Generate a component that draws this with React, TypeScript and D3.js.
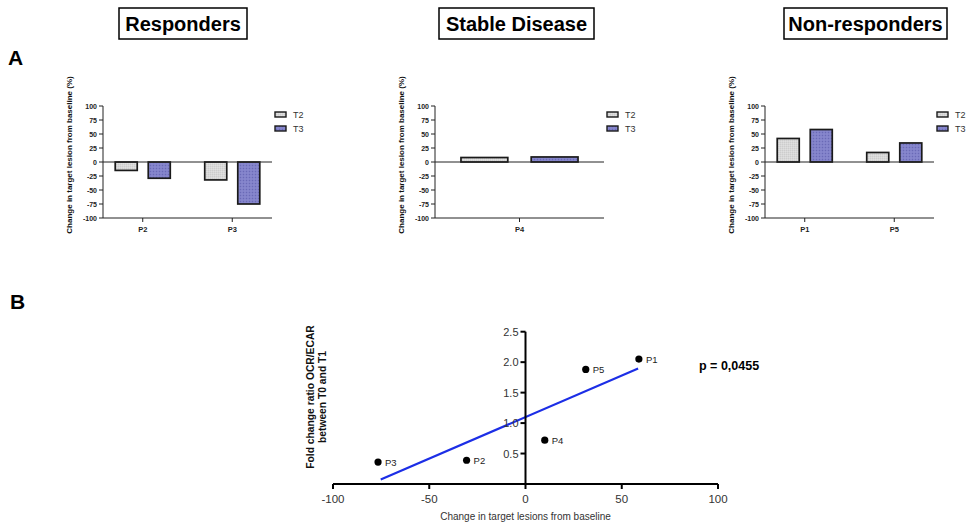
import React from "react";
import * as d3 from "d3";

// ---------- DATA ----------
const seriesNames = ["T2", "T3"];
const panelTitles = ["Responders", "Stable Disease", "Non-responders"];
const respondersCats = ["P2", "P3"];
const respondersT2 = [-15, -32];
const respondersT3 = [-29, -75];
const stableCats = ["P4"];
const stableT2 = [8];
const stableT3 = [9];
const nonRespCats = ["P1", "P5"];
const nonRespT2 = [42, 17];
const nonRespT3 = [58, 34];
const barTicks = [100, 75, 50, 25, 0, -25, -50, -75, -100];

const scatterLabels = ["P3", "P2", "P4", "P5", "P1"];
const scatterX = [-76.6, -30.6, 10.0, 31.3, 58.9];
const scatterY = [0.36, 0.39, 0.72, 1.88, 2.05];
const scatterXTicks = [-100, -50, 0, 50, 100];
const scatterYTicks = [0.5, 1.0, 1.5, 2.0, 2.5];
const pValueText = "p = 0,0455";

// ---------- LAYOUT ----------
const W = 967;
const H = 524;
const FONT = "Liberation Sans, Arial, Helvetica, sans-serif";
const panelAxisX = [103, 435, 765];
const titleBoxes = [
  [119, 247],
  [439, 594],
  [784, 947],
];
const plotW = 169;
const barTop = 106;
const barBottom = 218;

type Panel = { cats: string[]; t2: number[]; t3: number[] };
const panels: Panel[] = [
  { cats: respondersCats, t2: respondersT2, t3: respondersT3 },
  { cats: stableCats, t2: stableT2, t3: stableT3 },
  { cats: nonRespCats, t2: nonRespT2, t3: nonRespT3 },
];

function BarPanel({ idx }: { idx: number }) {
  const p = panels[idx];
  const x0 = panelAxisX[idx];
  const y = d3.scaleLinear().domain([-100, 100]).range([barBottom, barTop]);
  const x = d3.scalePoint<string>().domain(p.cats).range([x0, x0 + plotW]).padding(0.444);
  const step = p.cats.length > 1 ? x.step() : plotW / (2 * 0.444);
  const bw = step * 0.246;
  const gap = step * 0.123;
  const [bx0, bx1] = titleBoxes[idx];
  const title = panelTitles[idx];
  const labelCx = x0 - 31;
  const labelCy = 155;
  return (
    <g>
      <rect x={bx0} y={8} width={bx1 - bx0} height={31} fill="#fff" stroke="#000" strokeWidth={1.5} />
      <text x={(bx0 + bx1) / 2} y={31} textAnchor="middle" fontFamily={FONT} fontWeight="bold" fontSize={20} fill="#000">
        {title}
      </text>
      {/* y axis */}
      <line x1={x0} x2={x0} y1={barTop} y2={barBottom} stroke="#222" strokeWidth={1} />
      {barTicks.map((t) => (
        <g key={t}>
          <line x1={x0 - 4} x2={x0} y1={y(t)} y2={y(t)} stroke="#222" strokeWidth={1} />
          <text x={x0 - 6} y={y(t) + 2.5} textAnchor="end" fontFamily={FONT} fontWeight="bold" fontSize={7} fill="#222">
            {t}
          </text>
        </g>
      ))}
      <text
        transform={`translate(${labelCx},${labelCy}) rotate(-90)`}
        textAnchor="middle"
        fontFamily={FONT}
        fontWeight="bold"
        fontSize={8}
        fill="#111"
      >
        Change in target lesion from baseline (%)
      </text>
      {/* bars */}
      {p.cats.map((c, i) => {
        const cx = x(c) as number;
        const v2 = p.t2[i];
        const v3 = p.t3[i];
        return (
          <g key={c}>
            <rect
              x={cx - gap / 2 - bw}
              y={Math.min(y(v2), y(0))}
              width={bw}
              height={Math.abs(y(v2) - y(0))}
              fill="url(#patT2)"
              stroke="#1a1a1a"
              strokeWidth={1.7}
            />
            <rect
              x={cx + gap / 2}
              y={Math.min(y(v3), y(0))}
              width={bw}
              height={Math.abs(y(v3) - y(0))}
              fill="url(#patT3)"
              stroke="#1a1a1a"
              strokeWidth={1.7}
            />
            <line x1={cx} x2={cx} y1={barBottom} y2={barBottom + 4} stroke="#222" strokeWidth={1} />
            <text x={cx} y={232} textAnchor="middle" fontFamily={FONT} fontWeight="bold" fontSize={7.5} fill="#222">
              {c}
            </text>
          </g>
        );
      })}
      {/* zero line & bottom axis */}
      <line x1={x0} x2={x0 + plotW} y1={y(0)} y2={y(0)} stroke="#222" strokeWidth={1} />
      <line x1={x0} x2={x0 + plotW} y1={barBottom} y2={barBottom} stroke="#222" strokeWidth={1} />
      {/* legend */}
      {seriesNames.map((s, i) => (
        <g key={s}>
          <rect
            x={x0 + plotW + 3}
            y={112 + i * 14}
            width={11}
            height={5}
            fill={i === 0 ? "url(#patT2)" : "url(#patT3)"}
            stroke="#1a1a1a"
            strokeWidth={1.4}
          />
          <text x={x0 + plotW + 21} y={117.5 + i * 14} fontFamily={FONT} fontSize={9} fill="#333">
            {s}
          </text>
        </g>
      ))}
    </g>
  );
}

function Scatter() {
  const x = d3.scaleLinear().domain([-100, 100]).range([333, 718]);
  const y = d3.scaleLinear().domain([0, 2.5]).range([484, 331.7]);
  const mx = d3.mean(scatterX) as number;
  const my = d3.mean(scatterY) as number;
  let sxy = 0;
  let sxx = 0;
  scatterX.forEach((v, i) => {
    sxy += (v - mx) * (scatterY[i] - my);
    sxx += (v - mx) * (v - mx);
  });
  const slope = sxy / sxx;
  const intercept = my - slope * mx;
  const [xmin, xmax] = d3.extent(scatterX) as [number, number];
  const lx0 = xmin + 1.4;
  const lx1 = xmax - 0.4;
  const linePath = d3
    .line<number>()
    .x((d) => x(d))
    .y((d) => y(intercept + slope * d))([lx0, lx1]);
  return (
    <g>
      <path d={linePath as string} stroke="#1c2ee6" strokeWidth={2.2} fill="none" />
      {/* x axis */}
      <line x1={x(-100)} x2={x(100)} y1={y(0)} y2={y(0)} stroke="#000" strokeWidth={2} />
      {scatterXTicks.map((t) => (
        <g key={t}>
          <line x1={x(t)} x2={x(t)} y1={y(0)} y2={y(0) + 5} stroke="#000" strokeWidth={2} />
          <text x={x(t)} y={503} textAnchor="middle" fontFamily={FONT} fontSize={11.5} fill="#333">
            {t}
          </text>
        </g>
      ))}
      {/* y axis */}
      <line x1={x(0)} x2={x(0)} y1={y(0)} y2={y(2.5)} stroke="#000" strokeWidth={2} />
      {scatterYTicks.map((t) => (
        <g key={t}>
          <line x1={x(0) - 5} x2={x(0)} y1={y(t)} y2={y(t)} stroke="#000" strokeWidth={2} />
          <text x={x(0) - 7} y={y(t) + 4} textAnchor="end" fontFamily={FONT} fontSize={11} fill="#333">
            {t.toFixed(1)}
          </text>
        </g>
      ))}
      <text x={x(0)} y={520} textAnchor="middle" fontFamily={FONT} fontSize={10} fill="#333">
        Change in target lesions from baseline
      </text>
      <text
        transform={`translate(314,397) rotate(-90)`}
        textAnchor="middle"
        fontFamily={FONT}
        fontWeight="bold"
        fontSize={10.3}
        fill="#111"
      >
        Fold change ratio OCR/ECAR
      </text>
      <text
        transform={`translate(326,397) rotate(-90)`}
        textAnchor="middle"
        fontFamily={FONT}
        fontWeight="bold"
        fontSize={10.3}
        fill="#111"
      >
        between T0 and T1
      </text>
      {/* points */}
      {scatterX.map((v, i) => (
        <g key={scatterLabels[i]}>
          <circle cx={x(v)} cy={y(scatterY[i])} r={3.6} fill="#000" />
          <text x={x(v) + 7} y={y(scatterY[i]) + 3.5} fontFamily={FONT} fontSize={9.5} fill="#222">
            {scatterLabels[i]}
          </text>
        </g>
      ))}
      <text x={699} y={369.5} fontFamily={FONT} fontWeight="bold" fontSize={12.5} fill="#000">
        {pValueText}
      </text>
    </g>
  );
}

export default function App() {
  return (
    <svg
      width={W}
      height={H}
      viewBox={`0 0 ${W} ${H}`}
      style={{ position: "absolute", left: 0, top: 0, background: "#fff" }}
    >
      <defs>
        <pattern id="patT2" width="2" height="2" patternUnits="userSpaceOnUse">
          <rect width="2" height="2" fill="#d8d8d8" />
          <rect width="1" height="1" fill="#cdcdcd" />
          <rect x="1" y="1" width="1" height="1" fill="#e0e0e0" />
        </pattern>
        <pattern id="patT3" width="3" height="3" patternUnits="userSpaceOnUse">
          <rect width="3" height="3" fill="#8080c8" />
          <rect width="1" height="1" fill="#6a6ab6" />
          <rect x="1.5" y="1.5" width="1" height="1" fill="#9a9ad8" />
        </pattern>
      </defs>
      <rect width={W} height={H} fill="#fff" />
      <text x={8} y={65} fontFamily={FONT} fontWeight="bold" fontSize={21} fill="#000">
        A
      </text>
      <text x={10} y={309} fontFamily={FONT} fontWeight="bold" fontSize={21} fill="#000">
        B
      </text>
      {panels.map((_, i) => (
        <BarPanel key={i} idx={i} />
      ))}
      <Scatter />
    </svg>
  );
}
